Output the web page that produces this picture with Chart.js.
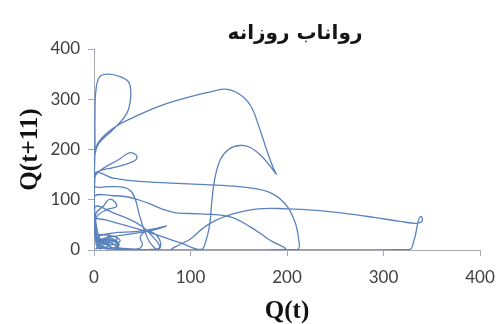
<!DOCTYPE html>
<html>
<head>
<meta charset="utf-8">
<script src="https://cdn.jsdelivr.net/npm/chart.js@4"></script>
<style>
  html, body { margin: 0; padding: 0; background: #ffffff; }
  #wrap { width: 496px; height: 324px; }
</style>
</head>
<body>
<div id="wrap"><canvas id="c" width="496" height="324"></canvas></div>
<script>
// Daily runoff phase-space trajectory: Q(t) against Q(t+11)
const titleText = 'رواناب روزانه';
const xLabel = 'Q(t)';
const yLabel = 'Q(t+11)';
const xTicks = [0, 100, 200, 300, 400];
const yTicks = [0, 100, 200, 300, 400];

const qt = [3,12,20,25,14,4,1,0,1,1, 2,6,15,27,36,38,34,20,5,1, 0,1,6,14,4,0,0,1,6,22,
  42,70,100,124,136,150,162,171,180,186, 189,184,174,162,151,140,131,125,122,120,
  116,111,90,62,36,12,1,0,1,20, 45,80,115,150,180,198,208,212,211,170,
  120,80,40,16,6,16,3,0,1,10, 25,36,43,44,35,18,3,0,1,15,
  30,38,43,47,52,57,63,67,69,64, 55,48,50,45,25,8,1,0,20,34,
  46,58,70,85,110,141,162,182,198,150, 105,80,88,100,112,125,144,170,200,230,
  260,290,317,334,340,339,336,334,331,327, 260,180,100,50,20,7,2,1,20,38,
  52,62,68,60,30,10,2,2,10,16, 22,23,13,3,1,25,45,62,75,60,
  35,15,5,12,20,26,17,8,4,11, 22,24,14,5,2,8,18,24,14,4,
  10,22,27,18,9,3,12,26,20,7, 2,6];

const qt11 = [6,11,4,15,24,16,40,120,200,262, 318,345,350,345,334,305,272,240,212,190,
  130,70,22,8,4,60,140,195,218,245, 265,288,305,316,320,311,288,245,193,162,
  151,163,186,204,208,201,180,140,95,52, 18,1,14,32,47,60,66,110,154,143,
  137,133,130,126,116,92,57,22,1,0, 0,0,1,3,13,19,26,60,145,163,
  179,193,190,181,172,163,155,140,126,126, 125,118,100,70,40,18,4,1,14,31,
  37,26,10,2,4,8,50,106,108,106, 100,92,82,74,72,66,46,20,1,0,
  0,0,10,22,42,58,72,82,82,79, 73,65,57,53,58,67,58,38,15,1,
  0,0,0,0,2,10,40,86,74,60, 44,24,6,1,3,6,30,72,88,101,
  95,86,80,66,33,35,37,42,48,39, 31,25,18,12,20,10,3,7,14,22,
  16,6,2,5,2,18,28,22,14,24, 30,26,18,10,16,8,4,3,12,20,
  12,3];

const points = qt.map((v, i) => ({ x: v, y: qt11[i] }));

const axisColor = '#a3a8b2';
const tickFont = { family: 'Lato', size: 17 };
const labelFont = { family: 'Liberation Serif', size: 25, weight: 'bold', lineHeight: 1 };

// Persian title centred over the plot area
const plotTitle = {
  id: 'plotTitle',
  afterDraw(chart) {
    const { ctx, chartArea } = chart;
    ctx.save();
    ctx.font = "bold 20px 'DejaVu Sans'";
    ctx.fillStyle = '#151515';
    ctx.textAlign = 'center';
    ctx.textBaseline = 'middle';
    ctx.direction = 'rtl';
    ctx.fillText(titleText, (chartArea.left + chartArea.right) / 2 + 8, 34);
    ctx.restore();
  }
};

new Chart(document.getElementById('c'), {
  type: 'line',
  data: {
    datasets: [{
      data: points,
      borderColor: '#5a82be',
      borderWidth: 1.3,
      pointRadius: 0,
      fill: false,
      tension: 0.4
    }]
  },
  options: {
    responsive: false,
    animation: false,
    devicePixelRatio: 1,
    layout: { padding: { top: 49, right: 16, left: 0, bottom: 0 } },
    plugins: { legend: { display: false }, title: { display: false }, tooltip: { enabled: false } },
    scales: {
      x: {
        type: 'linear',
        min: 0, max: 400,
        afterBuildTicks: s => { s.ticks = xTicks.map(v => ({ value: v })); },
        afterFit: s => { s.height = 74; s.paddingLeft = 0; s.paddingRight = 0; },
        ticks: { font: tickFont, color: '#404040', padding: 11 },
        grid: { drawOnChartArea: false, drawTicks: true, tickLength: 6, color: axisColor },
        border: { display: true, color: axisColor, width: 1 },
        title: { display: true, text: xLabel, font: labelFont, color: '#111111', padding: { top: 0, bottom: 0 } }
      },
      y: {
        type: 'linear',
        min: 0, max: 400,
        afterBuildTicks: s => { s.ticks = yTicks.map(v => ({ value: v })); },
        afterFit: s => { s.width = 94; s.paddingTop = 0; s.paddingBottom = 0; },
        ticks: { font: tickFont, color: '#404040', padding: 8 },
        grid: { drawOnChartArea: false, drawTicks: true, tickLength: 6, color: axisColor },
        border: { display: true, color: axisColor, width: 1 },
        title: { display: true, text: yLabel, font: labelFont, color: '#111111', padding: { top: 18, bottom: 0 } }
      }
    }
  },
  plugins: [plotTitle]
});
</script>
</body>
</html>
